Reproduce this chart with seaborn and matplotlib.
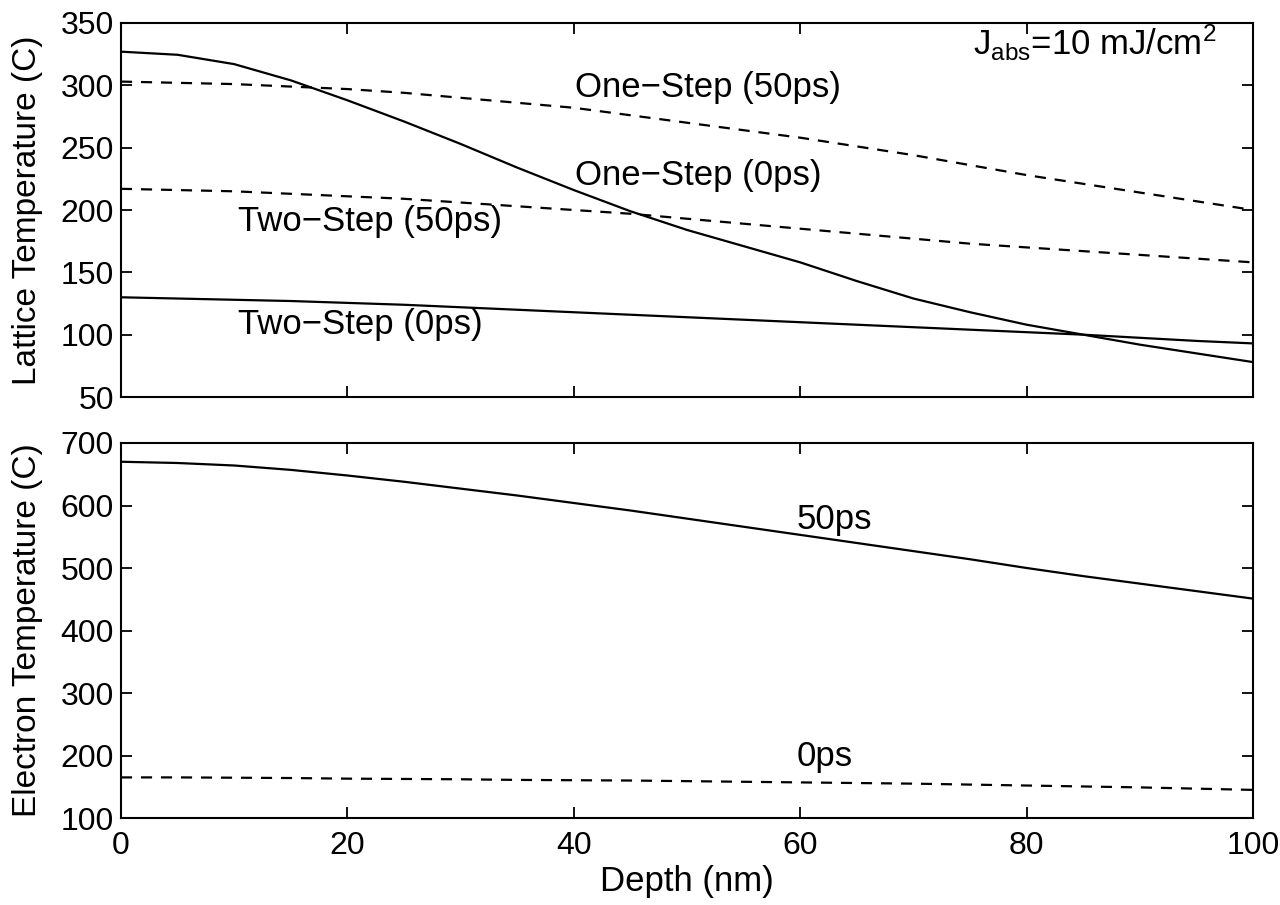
import matplotlib
matplotlib.use("Agg")
import matplotlib.pyplot as plt
import seaborn as sns

depth = [0, 5, 10, 15, 20, 25, 30, 35, 40, 45, 50, 55, 60, 65, 70, 75, 80, 85, 90, 95, 100]

lat_one_0 = [327, 324.5, 317, 304, 288, 271, 253, 234, 216, 199, 184, 171, 158, 143, 129, 118, 108, 100, 92, 85, 78]
lat_one_50 = [303, 302, 301, 299, 297, 294, 290, 286, 282, 276, 270, 264, 258, 251, 244, 236, 228, 221, 214, 207, 200]
lat_two_50 = [217, 216, 215, 213, 211, 209, 206, 203, 200, 197, 193, 189, 185, 181, 177, 173, 170, 167, 164, 161, 158]
lat_two_0 = [130, 129, 128, 127, 125.5, 124, 122, 120, 118, 116, 114, 112, 110, 108, 106, 104, 102, 100, 97.5, 95, 93]

el_50 = [670, 668, 664, 657, 648, 638, 627, 616, 604, 592, 579, 566, 553, 540, 527, 514, 500, 487, 475, 463, 451]
el_0 = [165, 165, 164.5, 164, 163, 162.5, 162, 161, 160.5, 160, 159, 158, 157, 156, 155, 153.5, 152, 150.5, 149, 147, 145]

x_ticks = [0, 20, 40, 60, 80, 100]
lat_yticks = [50, 100, 150, 200, 250, 300, 350]
el_yticks = [100, 200, 300, 400, 500, 600, 700]

sns.set_style("ticks")
plt.rcParams['font.family'] = ['Liberation Sans', 'DejaVu Sans']
plt.rcParams['mathtext.fontset'] = 'custom'
plt.rcParams['mathtext.rm'] = 'Liberation Sans'
plt.rcParams['mathtext.it'] = 'Liberation Sans'
for k in ('text.color', 'axes.labelcolor', 'xtick.color', 'ytick.color', 'axes.edgecolor'):
    plt.rcParams[k] = 'black'

fig = plt.figure(figsize=(12.8, 9.05), dpi=100)
ax1 = fig.add_axes([0.0945, 0.5613, 0.8845, 0.4133])
ax2 = fig.add_axes([0.0945, 0.0961, 0.8845, 0.4144])

lw = 1.6
dash = (5, 4)

sns.lineplot(x=depth, y=lat_one_0, ax=ax1, color='black', lw=lw)
sns.lineplot(x=depth, y=lat_two_0, ax=ax1, color='black', lw=lw)
sns.lineplot(x=depth, y=lat_one_50, ax=ax1, color='black', lw=lw)
ax1.lines[-1].set_dashes(dash)
sns.lineplot(x=depth, y=lat_two_50, ax=ax1, color='black', lw=lw)
ax1.lines[-1].set_dashes(dash)

sns.lineplot(x=depth, y=el_50, ax=ax2, color='black', lw=lw)
sns.lineplot(x=depth, y=el_0, ax=ax2, color='black', lw=lw)
ax2.lines[-1].set_dashes(dash)

fs_tick = 23
fs_lab = 24
fs_ann = 25

for ax in (ax1, ax2):
    ax.set_xlim(0, 100)
    ax.set_xticks(x_ticks)
    ax.tick_params(direction='in', length=8, width=1.3, top=True, right=True,
                   labelsize=fs_tick, pad=5, colors='black')
    ax.tick_params(axis='x', pad=9)
    for s in ax.spines.values():
        s.set_visible(True)
        s.set_linewidth(1.5)
        s.set_color('black')

ax1.set_ylim(50, 350)
ax1.set_yticks(lat_yticks)
ax1.set_xticklabels([])
ax1.set_ylabel('Lattice Temperature (C)', fontsize=fs_lab)
ax1.yaxis.set_label_coords(-0.069, 0.5)

ax2.set_ylim(100, 700)
ax2.set_yticks(el_yticks)
ax2.set_ylabel('Electron Temperature (C)', fontsize=fs_lab)
ax2.yaxis.set_label_coords(-0.069, 0.5)
ax2.set_xlabel('Depth (nm)', fontsize=fs_lab + 1, labelpad=3)

ax1.text(40.1, 298, 'One\u2212Step (50ps)', fontsize=fs_ann, ha='left', va='center')
ax1.text(40.1, 228, 'One\u2212Step (0ps)', fontsize=fs_ann, ha='left', va='center')
ax1.text(10.3, 190.5, 'Two\u2212Step (50ps)', fontsize=fs_ann, ha='left', va='center')
ax1.text(10.3, 108, 'Two\u2212Step (0ps)', fontsize=fs_ann, ha='left', va='center')
ax1.text(75.3, 334, r'J$_{\mathrm{abs}}$=10 mJ/cm$^{2}$', fontsize=fs_ann, ha='left', va='center')

ax2.text(59.7, 577, '50ps', fontsize=fs_ann, ha='left', va='center')
ax2.text(59.7, 198, '0ps', fontsize=fs_ann, ha='left', va='center')

fig.savefig('out.png', dpi=100)
